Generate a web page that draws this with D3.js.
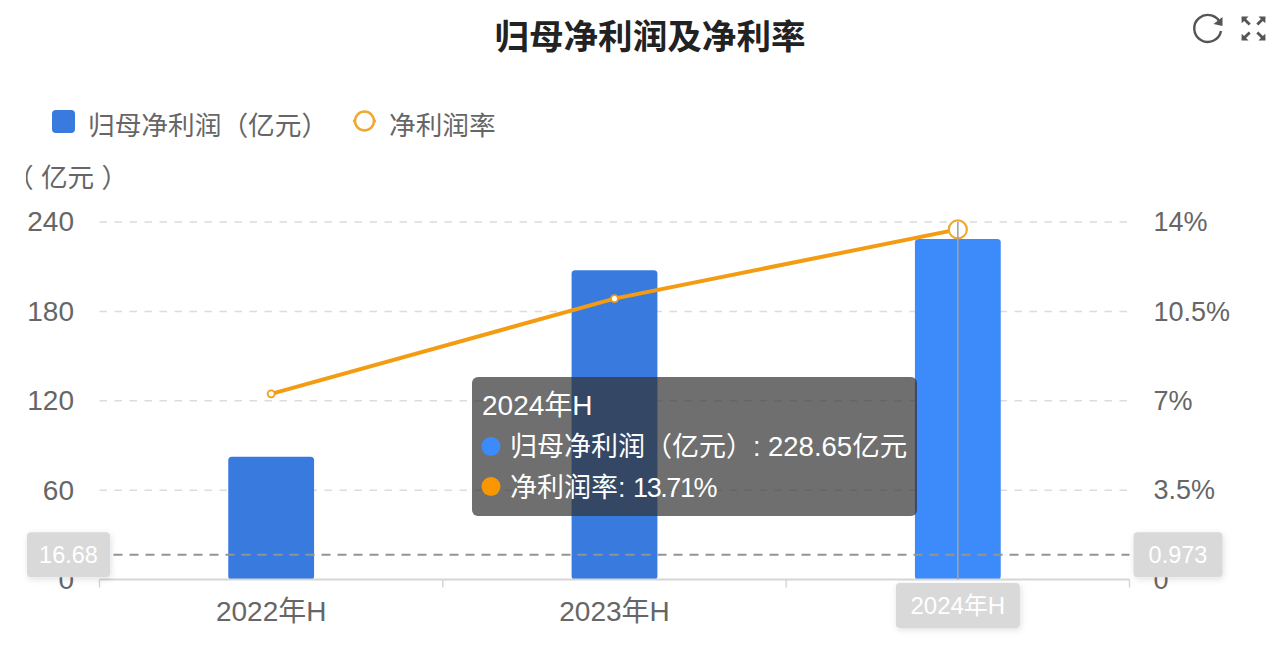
<!DOCTYPE html>
<html lang="zh">
<head>
<meta charset="utf-8">
<title>归母净利润及净利率</title>
<script src="https://cdn.jsdelivr.net/npm/d3@7/dist/d3.min.js"></script>
<style>
  html, body { margin: 0; padding: 0; background: #fff; }
  svg { display: block; }
  text { font-family: "Liberation Sans", "Noto Sans CJK SC", sans-serif; }
  .axis .domain { display: none; }
</style>
</head>
<body>
<svg id="chart" width="1280" height="657"></svg>
<script>
// Chart data
const years = ["2022年H", "2023年H", "2024年H"];
const netProfit = [82.4, 207.6, 228.65];
const netMargin = [7.27, 11.0, 13.71];
const profitTicks = [0, 60, 120, 180, 240];
const marginTicks = [0, 3.5, 7, 10.5, 14];
const profitMarker = 16.68;
const marginMarker = 0.973;
const activeYear = "2024年H";
const profitName = "归母净利润（亿元）";
const marginName = "净利润率";

const svg = d3.select("#chart");
const plot = { left: 99.5, right: 1129.5, top: 222, bottom: 579.5 };
const labelFill = "#666";
const barBase = "#397ade";
const barActive = "#3d8bfb";
const lineColor = "#f39c12";
const ringColor = "#f0a92e";
const chipFill = "#d9d9d9";

const x = d3.scaleBand().domain(years).range([plot.left, plot.right]);
const yProfit = d3.scaleLinear().domain([0, 240]).range([plot.bottom, plot.top]);
const yMargin = d3.scaleLinear().domain([0, 14]).range([plot.bottom, plot.top]);
const barWidth = x.bandwidth() * 0.25;
const cx = d => x(d) + x.bandwidth() / 2;

// Soft shadow for the axis pointer chips
const defs = svg.append("defs");
const shadow = defs.append("filter").attr("id", "chipShadow")
  .attr("x", "-20%").attr("y", "-20%").attr("width", "140%").attr("height", "140%");
shadow.append("feDropShadow").attr("dx", 1).attr("dy", 2)
  .attr("stdDeviation", 3).attr("flood-color", "#000").attr("flood-opacity", 0.12);

// The unit label sits against the left edge of the chart area and is cut off there
defs.append("clipPath").attr("id", "unitClip")
  .append("rect").attr("x", 26).attr("y", 150).attr("width", 110).attr("height", 50);

// Title
svg.append("text").attr("x", 650).attr("y", 49)
  .attr("text-anchor", "middle").attr("font-size", 34.6).attr("font-weight", 700)
  .attr("fill", "#222").text("归母净利润及净利率");

// Toolbox: refresh and full-screen icons
const icons = svg.append("g").attr("fill", "none").attr("stroke", "#555");
icons.append("path").attr("stroke-width", 2.4)
  .attr("d", "M1220.5 24 A13.5 13.5 0 1 0 1221 31");
icons.append("path").attr("stroke", "none").attr("fill", "#555")
  .attr("d", "M1222.5 17 L1222.5 26 L1213.5 24 Z");
const arrows = [[1241.5, 16.5, 1, 1], [1265.5, 16.5, -1, 1], [1241.5, 40.5, 1, -1], [1265.5, 40.5, -1, -1]];
arrows.forEach(([ax, ay, sx, sy]) => {
  icons.append("path").attr("stroke", "none").attr("fill", "#555")
    .attr("d", `M${ax} ${ay} h${7 * sx} l${-2.4 * sx} ${2.4 * sy} l${4.6 * sx} ${4.6 * sy} l${-2 * sx} ${2 * sy} l${-4.6 * sx} ${-4.6 * sy} l${-2.4 * sx} ${2.4 * sy} Z`);
});

// Legend
const legend = svg.append("g").attr("font-size", 26.7).attr("fill", labelFill);
legend.append("rect").attr("x", 52).attr("y", 110).attr("width", 23).attr("height", 23)
  .attr("rx", 4).attr("fill", barBase);
legend.append("text").attr("x", 88).attr("y", 135).text(profitName);
legend.append("line").attr("x1", 353).attr("x2", 376).attr("y1", 121).attr("y2", 121)
  .attr("stroke", ringColor).attr("stroke-width", 2.5);
legend.append("circle").attr("cx", 364.5).attr("cy", 121).attr("r", 9.5)
  .attr("fill", "#fff").attr("stroke", ringColor).attr("stroke-width", 2.5);
legend.append("text").attr("x", 389).attr("y", 135).text(marginName);

// Left axis unit
svg.append("text").attr("x", 7).attr("y", 187).attr("font-size", 26.6)
  .attr("fill", labelFill).attr("clip-path", "url(#unitClip)").text("（ 亿元 ）");

// Gridlines
svg.append("g").selectAll("line").data(profitTicks.slice(1)).join("line")
  .attr("x1", plot.left).attr("x2", plot.right)
  .attr("y1", d => yProfit(d)).attr("y2", d => yProfit(d))
  .attr("stroke", "#dcdcdc").attr("stroke-width", 1.5).attr("stroke-dasharray", "7.5 7.5");

// Bars with slightly rounded corners
svg.append("g").selectAll("rect").data(years).join("rect")
  .attr("x", d => cx(d) - barWidth / 2)
  .attr("width", barWidth)
  .attr("y", (d, i) => yProfit(netProfit[i]))
  .attr("height", (d, i) => plot.bottom - yProfit(netProfit[i]))
  .attr("rx", 3.5)
  .attr("fill", d => d === activeYear ? barActive : barBase);

// Category axis
const xAxis = svg.append("g").attr("class", "axis")
  .attr("transform", `translate(0,${plot.bottom})`)
  .call(d3.axisBottom(x).tickSize(0).tickPadding(22));
xAxis.selectAll("text").attr("font-size", 28).attr("fill", labelFill);
xAxis.selectAll(".tick").filter(d => d === activeYear).select("text").remove();
svg.append("line").attr("x1", plot.left).attr("x2", plot.right)
  .attr("y1", plot.bottom).attr("y2", plot.bottom)
  .attr("stroke", "#d6d6d6").attr("stroke-width", 2);
const bandEdges = years.map(d => x(d)).concat([plot.right]);
svg.append("g").selectAll("line").data(bandEdges).join("line")
  .attr("x1", d => d).attr("x2", d => d)
  .attr("y1", plot.bottom).attr("y2", plot.bottom + 8)
  .attr("stroke", "#d6d6d6").attr("stroke-width", 1.5);

// Value axes
const leftAxis = svg.append("g").attr("class", "axis")
  .attr("transform", `translate(${plot.left},0)`)
  .call(d3.axisLeft(yProfit).tickValues(profitTicks).tickSize(0).tickPadding(25.5));
leftAxis.selectAll("text").attr("font-size", 28).attr("fill", labelFill);
const rightAxis = svg.append("g").attr("class", "axis")
  .attr("transform", `translate(${plot.right},0)`)
  .call(d3.axisRight(yMargin).tickValues(marginTicks).tickSize(0).tickPadding(24)
    .tickFormat(d => d === 0 ? "0" : d + "%"));
rightAxis.selectAll("text").attr("font-size", 27).attr("fill", labelFill);

// Margin line and its points
const line = d3.line().x(d => cx(d.year)).y(d => yMargin(d.value));
const marginPoints = years.map((year, i) => ({ year, value: netMargin[i] }));
svg.append("path").datum(marginPoints).attr("d", line)
  .attr("fill", "none").attr("stroke", lineColor).attr("stroke-width", 4);
svg.append("g").selectAll("circle").data(marginPoints).join("circle")
  .attr("cx", d => cx(d.year)).attr("cy", d => yMargin(d.value))
  .attr("r", d => d.year === activeYear ? 9 : 3.5)
  .attr("fill", "#fff")
  .attr("stroke", d => d.year === activeYear ? ringColor : lineColor)
  .attr("stroke-width", d => d.year === activeYear ? 2.2 : 1.8);

// Crosshair through the active category
svg.append("line")
  .attr("x1", cx(activeYear)).attr("x2", cx(activeYear))
  .attr("y1", plot.top).attr("y2", plot.bottom)
  .attr("stroke", "#a3a3a3").attr("stroke-width", 1.6);
svg.append("line")
  .attr("x1", plot.left + 14).attr("x2", plot.right)
  .attr("y1", yProfit(profitMarker)).attr("y2", yProfit(profitMarker))
  .attr("stroke", "#949494").attr("stroke-width", 2).attr("stroke-dasharray", "9 7");

// Axis pointer chips
function chip(cxPos, cyPos, w, h, label, size) {
  const g = svg.append("g");
  g.append("rect").attr("x", cxPos - w / 2).attr("y", cyPos - h / 2)
    .attr("width", w).attr("height", h).attr("rx", 4)
    .attr("fill", chipFill).attr("filter", "url(#chipShadow)");
  g.append("text").attr("x", cxPos).attr("y", cyPos + 8.5)
    .attr("text-anchor", "middle").attr("font-size", size).attr("fill", "#fff").text(label);
}
chip(68.5, yProfit(profitMarker), 83, 45, String(profitMarker), 23.5);
chip(1178, yMargin(marginMarker), 89, 45, String(marginMarker), 23.5);
chip(cx(activeYear), 605.5, 124, 45, activeYear, 24);

// Tooltip for the active category
const activeIndex = years.indexOf(activeYear);
const tip = svg.append("g");
tip.append("rect").attr("x", 472).attr("y", 377).attr("width", 445).attr("height", 139)
  .attr("rx", 6).attr("fill", "rgba(50,50,50,0.7)");
const tipText = tip.append("g").attr("font-size", 27).attr("fill", "#fff");
tipText.append("text").attr("x", 482).attr("y", 415).attr("font-size", 28).text(activeYear);
const profitRow = tipText.append("text").attr("x", 510).attr("y", 456);
profitRow.append("tspan").text(`${profitName}: `);
profitRow.append("tspan").attr("font-size", 27.5).text(`${netProfit[activeIndex]}亿元`);
const marginRow = tipText.append("text").attr("x", 510).attr("y", 497);
marginRow.append("tspan").text(`${marginName}: `);
marginRow.append("tspan").attr("letter-spacing", -1.4).text(`${netMargin[activeIndex]}%`);
tip.append("circle").attr("cx", 491).attr("cy", 446.5).attr("r", 9.5).attr("fill", barActive);
tip.append("circle").attr("cx", 491).attr("cy", 486.5).attr("r", 9.5).attr("fill", "#f99600");
</script>
</body>
</html>
